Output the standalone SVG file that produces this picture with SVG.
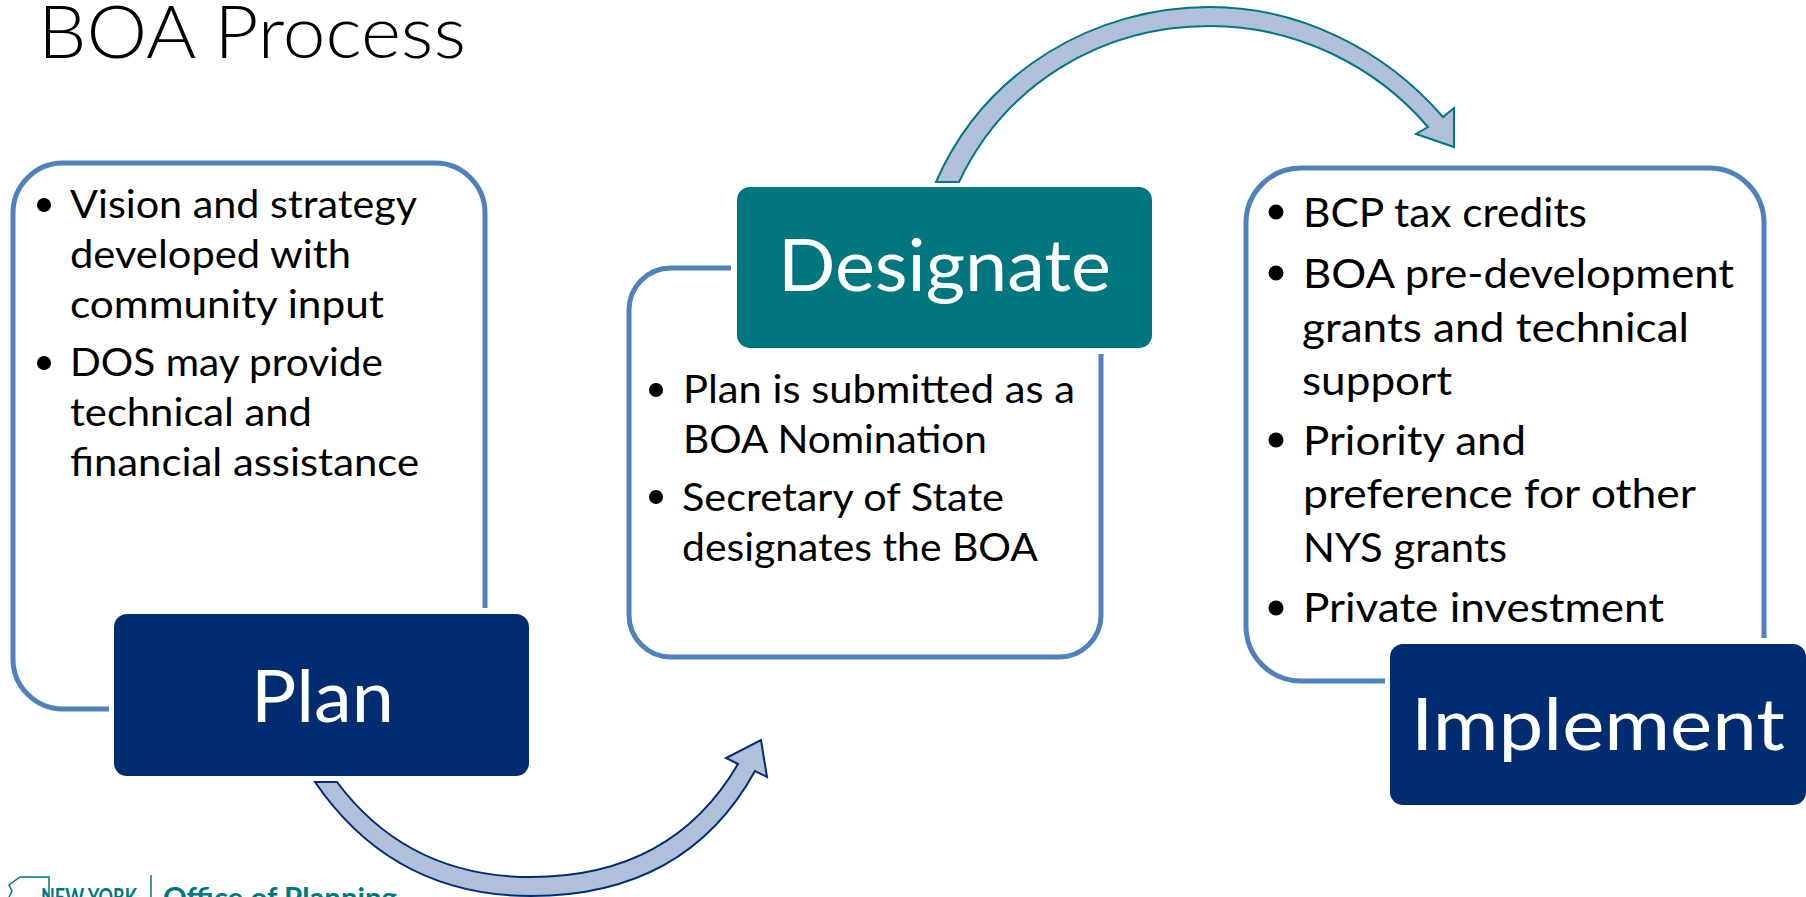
<svg xmlns="http://www.w3.org/2000/svg" width="1806" height="897" viewBox="0 0 1806 897">
<style>
text{font-family:"Lato","Carlito","Liberation Sans",sans-serif}
.b{font-size:39px;fill:#000}
.b2{font-size:41px;fill:#000}
.h{font-size:72px;fill:#fff}
.o{fill:none;stroke:#4F81BD;stroke-width:5}
.a1{fill:#B0C0DB;stroke:#002D72;stroke-width:2}
.a2{fill:#B0C0DB;stroke:#00777F;stroke-width:2}
.n{fill:#002D72}.t{fill:#00777F}
.d{fill:#000}
</style>
<rect width="1806" height="897" fill="#fff"/>
<text id="title" x="38" y="58" font-size="72" font-weight="300" fill="#000" textLength="428" lengthAdjust="spacingAndGlyphs">BOA Process</text>
<g id="connectors">
<path class="a1" d="M315 782Q393 896 531 896Q686 896 755 771L767 777L761 740L726 758L738 764Q672 877 531 877Q408 877 337 782Z"/>
<path class="a2" d="M936 182C985 70 1095 7 1210 7C1300 7 1385 50 1443 117L1454 108V147L1416 134L1428 127C1375 65 1295 26 1210 26C1100 26 1005 85 959 182Z"/>
</g>
<g id="plan-node">
<path class="o" d="M109 709H63A50 50 0 0 1 13 659V213A50 50 0 0 1 63 163H435A50 50 0 0 1 485 213V608"/>
<circle class="d" cx="44" cy="205" r="7"/><circle class="d" cx="44" cy="363" r="7"/>
<text class="b" x="70" y="218" textLength="347" lengthAdjust="spacingAndGlyphs">Vision and strategy</text>
<text class="b" x="70" y="268" textLength="281" lengthAdjust="spacingAndGlyphs">developed with</text>
<text class="b" x="70" y="318" textLength="314" lengthAdjust="spacingAndGlyphs">community input</text>
<text class="b" x="70" y="376" textLength="313" lengthAdjust="spacingAndGlyphs">DOS may provide</text>
<text class="b" x="70" y="426" textLength="242" lengthAdjust="spacingAndGlyphs">technical and</text>
<text class="b" x="70" y="476" textLength="349" lengthAdjust="spacingAndGlyphs">financial assistance</text>
<rect class="n" x="114" y="614" width="415" height="162" rx="13"/>
<text class="h" x="251" y="722" textLength="143" lengthAdjust="spacingAndGlyphs">Plan</text>
</g>
<g id="designate-node">
<path class="o" d="M731 268H671A42 42 0 0 0 629 310V615A42 42 0 0 0 671 657H1059A42 42 0 0 0 1101 615V354"/>
<circle class="d" cx="656" cy="390" r="7"/><circle class="d" cx="656" cy="497" r="7"/>
<text class="b" x="683" y="403" textLength="392" lengthAdjust="spacingAndGlyphs">Plan is submitted as a</text>
<text class="b" x="683" y="453" textLength="304" lengthAdjust="spacingAndGlyphs">BOA Nomination</text>
<text class="b" x="682" y="511" textLength="322" lengthAdjust="spacingAndGlyphs">Secretary of State</text>
<text class="b" x="682" y="561" textLength="356" lengthAdjust="spacingAndGlyphs">designates the BOA</text>
<rect class="t" x="737" y="187" width="415" height="161" rx="13"/>
<text class="h" x="778" y="291" textLength="333" lengthAdjust="spacingAndGlyphs">Designate</text>
</g>
<g id="implement-node">
<path class="o" d="M1385 681H1301A55 55 0 0 1 1246 626V223A55 55 0 0 1 1301 168H1709A55 55 0 0 1 1764 223V638"/>
<circle class="d" cx="1276" cy="212" r="7.5"/><circle class="d" cx="1276" cy="273" r="7.5"/><circle class="d" cx="1276" cy="440" r="7.5"/><circle class="d" cx="1276" cy="608" r="7.5"/>
<text class="b2" x="1303" y="227" textLength="284" lengthAdjust="spacingAndGlyphs">BCP tax credits</text>
<text class="b2" x="1303" y="288" textLength="431" lengthAdjust="spacingAndGlyphs">BOA pre-development</text>
<text class="b2" x="1302" y="342" textLength="387" lengthAdjust="spacingAndGlyphs">grants and technical</text>
<text class="b2" x="1302" y="395" textLength="150" lengthAdjust="spacingAndGlyphs">support</text>
<text class="b2" x="1303" y="455" textLength="223" lengthAdjust="spacingAndGlyphs">Priority and</text>
<text class="b2" x="1303" y="508" textLength="393" lengthAdjust="spacingAndGlyphs">preference for other</text>
<text class="b2" x="1303" y="562" textLength="204" lengthAdjust="spacingAndGlyphs">NYS grants</text>
<text class="b2" x="1303" y="622" textLength="361" lengthAdjust="spacingAndGlyphs">Private investment</text>
<rect class="n" x="1390" y="644" width="416" height="161" rx="13"/>
<text class="h" x="1411" y="750" textLength="374" lengthAdjust="spacingAndGlyphs">Implement</text>
</g>
<g id="logo">
<path d="M9 897L12 891L9 885L20 877H49V897" fill="none" stroke="#00777F" stroke-width="1.5"/>
<line x1="151" y1="875" x2="151" y2="897" stroke="#00777F" stroke-width="1.5"/>
<text x="41" y="905" font-size="22" font-weight="700" fill="#00777F" textLength="96" lengthAdjust="spacingAndGlyphs">NEW YORK</text>
<text x="163" y="908" font-size="28" font-weight="700" fill="#00777F" textLength="234" lengthAdjust="spacingAndGlyphs">Office of Planning</text>
</g>
</svg>
